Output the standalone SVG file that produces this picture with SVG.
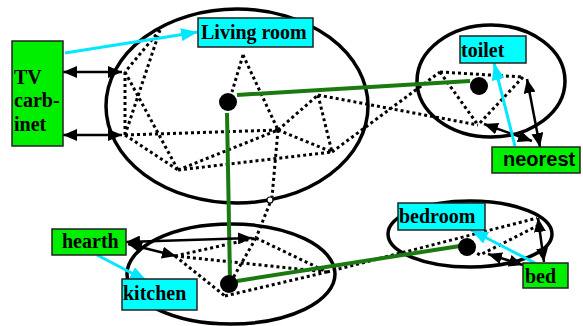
<svg xmlns="http://www.w3.org/2000/svg" width="583" height="326" viewBox="0 0 583 326">
<style>
.room{fill:none;stroke:#000;stroke-width:3.5}
.dot{fill:#000}
.dl{fill:none;stroke:#000;stroke-width:3;stroke-dasharray:3 3}
.gl{fill:none;stroke:#1a7a10;stroke-width:4}
.ba{fill:none;stroke:#000;stroke-width:2.5;marker-start:url(#bh);marker-end:url(#bh)}
.ca{fill:none;stroke:#00e8ff;stroke-width:3;marker-end:url(#ch)}
.cy{fill:#00ffff;stroke:#222;stroke-width:1.5}
.gr{fill:#00ee00;stroke:#222;stroke-width:1.5}
.t{font-family:"Liberation Serif","Times New Roman",serif;font-weight:bold;font-size:20px;fill:#000}
.s{font-family:"Liberation Sans",Arial,sans-serif;font-weight:bold;font-size:20px;fill:#000}
</style>
<defs>
<marker id="bh" viewBox="0 0 14 12" refX="14" refY="6" markerWidth="14" markerHeight="12" markerUnits="userSpaceOnUse" orient="auto-start-reverse"><path d="M0,0 L14,6 L0,12 z" fill="#000"/></marker>
<marker id="ch" viewBox="0 0 17 13" refX="17" refY="6.5" markerWidth="17" markerHeight="13" markerUnits="userSpaceOnUse" orient="auto"><path d="M0,0 L17,6.5 L0,13 z" fill="#00e8ff"/></marker>
</defs>
<rect width="583" height="326" fill="#fff"/>
<g id="rooms">
<ellipse class="room" cx="237" cy="106" rx="131" ry="97"/>
<ellipse class="room" cx="491" cy="81" rx="74" ry="56"/>
<ellipse class="room" cx="231" cy="274" rx="104" ry="50"/>
<ellipse class="room" cx="470" cy="234" rx="82" ry="33"/>
</g>
<g id="connectors">
<path class="dl" d="M160,30 L125,72 M160,30 L125,135 M125,72 L125,135 M125,72 L178,170 M125,135 L178,170 M125,135 L278,130 M178,170 L278,130 M178,170 L332,152 M278,130 L332,152 M278,130 L318,95 M318,95 L332,152 M243,55 L278,130 M278,130 L272,197 M243,55 L232,92 M270,203 L256,238 M318,95 L478,125 M332,152 L440,72 M440,72 L523,77 M440,72 L478,125 M523,77 L478,125"/>
<path class="dl" d="M256,238 L233,278 M175,256 L256,238 M175,256 L225,296 M175,256 L327,272 M256,238 L327,272 M225,296 L327,272 M327,272 L537,218 M467,247 L480,255 L537,226"/>
<circle cx="270" cy="200" r="3" fill="#fff" stroke="#000" stroke-width="1.2"/>
<path class="gl" d="M237,95 L470,81 M227,113 L230,280 M237,281 L460,246"/>
<path class="ba" d="M63,72 L122,72"/>
<path class="ba" d="M63,135 L122,135"/>
<path class="ba" d="M126,242 L252,238"/>
<path class="ba" d="M128,244 L176,256"/>
<path class="ba" d="M527,79 L540,147"/>
<path class="ba" d="M484,124 L532,141"/>
<path class="ba" d="M538,218 L544,262"/>
<path class="ba" d="M488,254 L523,265"/>
<path class="ca" d="M65,53 L198,32"/>
<path class="ca" d="M515,146 L494,63"/>
<path class="ca" d="M97,255 L147,281"/>
<path class="ca" d="M535,263 L471,230"/>
</g>
<g id="dots">
<circle class="dot" cx="228" cy="102" r="9"/>
<circle class="dot" cx="479" cy="86" r="9"/>
<circle class="dot" cx="229" cy="284" r="9"/>
<circle class="dot" cx="467" cy="247" r="9"/>
</g>
<g id="tv"><rect class="gr" x="12" y="41" width="51" height="105"/><text class="t" x="14" y="84">TV</text><text class="t" x="14" y="107">carb-</text><text class="t" x="14" y="131">inet</text></g>
<g id="living"><rect class="cy" x="198" y="18" width="115" height="29"/><text class="t" x="201" y="39">Living room</text></g>
<g id="toilet"><rect class="cy" x="460" y="36" width="66" height="27"/><text class="t" x="461" y="57">toilet</text></g>
<g id="neorest"><rect class="gr" x="492" y="147" width="88" height="26"/><text class="s" x="503" y="166">neorest</text></g>
<g id="hearth"><rect class="gr" x="52" y="229" width="74" height="26"/><text class="t" x="62" y="248">hearth</text></g>
<g id="kitchen"><rect class="cy" x="122" y="279" width="75" height="31"/><text class="t" x="123" y="300">kitchen</text></g>
<g id="bedroom"><rect class="cy" x="398" y="203" width="87" height="27"/><text class="t" x="399" y="223">bedroom</text></g>
<g id="bed"><rect class="gr" x="523" y="263" width="45" height="25"/><text class="t" x="525" y="283">bed</text></g>
</svg>
